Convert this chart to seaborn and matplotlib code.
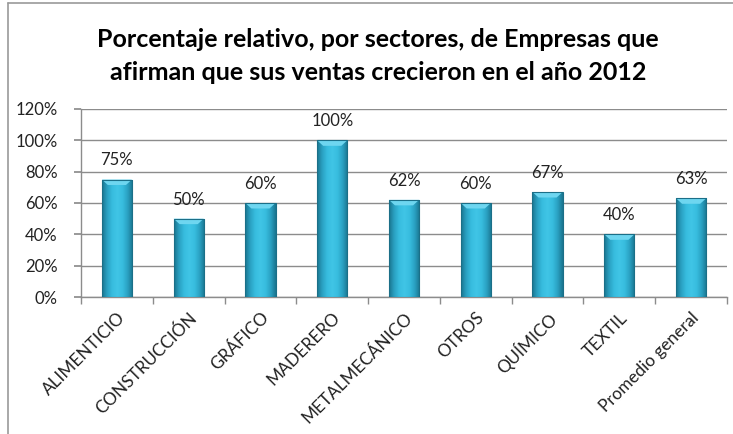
import numpy as np
import pandas as pd
import matplotlib
matplotlib.use("Agg")
import matplotlib.pyplot as plt
import seaborn as sns
from matplotlib.colors import LinearSegmentedColormap
from matplotlib.patches import Polygon, Rectangle
from matplotlib.ticker import FixedLocator, PercentFormatter

sectores = ["ALIMENTICIO", "CONSTRUCCIÓN", "GRÁFICO", "MADERERO", "METALMECÁNICO",
            "OTROS", "QUÍMICO", "TEXTIL", "Promedio general"]
porcentajes = [0.75, 0.50, 0.60, 1.00, 0.62, 0.60, 0.67, 0.40, 0.63]
titulo = "Porcentaje relativo, por sectores, de Empresas que\nafirman que sus ventas crecieron en el año 2012"

df = pd.DataFrame({"sector": sectores, "pct": porcentajes})

sns.set_theme(style="white")
plt.rcParams["font.family"] = ["Lato", "DejaVu Sans"]

fig = plt.figure(figsize=(7.33, 4.34), dpi=100)
ax = fig.add_axes([81 / 733, 1 - 297 / 434, (727 - 81) / 733, (297 - 109) / 434])

sns.barplot(data=df, x="sector", y="pct", color="#2EADD0", width=0.42, ax=ax,
            saturation=1, zorder=3)

ax.set_ylim(0, 1.2)
ax.set_xlim(-0.5, len(sectores) - 0.5)
ax.yaxis.set_major_locator(FixedLocator(np.arange(0, 1.21, 0.2)))
ax.yaxis.set_major_formatter(PercentFormatter(1.0, decimals=0))
ax.grid(axis="y", color="#8c8c8c", linewidth=1, zorder=0)
ax.set_axisbelow(True)
ax.set_xlabel("")
ax.set_ylabel("")

for side in ["top", "right"]:
    ax.spines[side].set_visible(False)
for side in ["left", "bottom"]:
    ax.spines[side].set_color("#8c8c8c")
    ax.spines[side].set_linewidth(1)

ax.tick_params(axis="y", left=True, length=5, color="#8c8c8c", labelsize=12,
               pad=12, labelcolor="#222222")
ax.tick_params(axis="x", which="major", bottom=False, labelsize=12.3, pad=3,
               labelcolor="#222222")
ax.set_xticks(np.arange(-0.5, len(sectores)), minor=True)
ax.tick_params(axis="x", which="minor", bottom=True, length=5, color="#8c8c8c")
for lab in ax.get_xticklabels():
    lab.set_rotation(45)
    lab.set_ha("right")
    lab.set_rotation_mode("anchor")

# shaded bar bodies with a bevelled top
shade = LinearSegmentedColormap.from_list(
    "bar_shade", ["#1A7590", "#2AA2C3", "#38BDDF", "#40C5E6", "#38BDDF", "#2AA2C3", "#1A7590"])
grad = np.linspace(0, 1, 64).reshape(1, -1)
for p in list(ax.patches):
    x0, w, h = p.get_x(), p.get_width(), p.get_height()
    p.set_alpha(0)
    body = Rectangle((x0, 0), w, h, facecolor="none", edgecolor="none", transform=ax.transData)
    ax.add_patch(body)
    im = ax.imshow(grad, cmap=shade, aspect="auto", extent=(x0, x0 + w, 0, h),
                   zorder=3, interpolation="bicubic")
    im.set_clip_path(body)
    cap_h = 0.035
    inset = w * 0.2
    cap = Polygon([(x0, h), (x0 + w, h), (x0 + w - inset, h - cap_h), (x0 + inset, h - cap_h)],
                  closed=True, facecolor="#6ED6F0", edgecolor="none", zorder=4)
    ax.add_patch(cap)
    ax.add_patch(Rectangle((x0, 0), w, h, facecolor="none", edgecolor="#1B6F88",
                           linewidth=0.8, zorder=5))

ax.set_xlim(-0.5, len(sectores) - 0.5)
ax.set_ylim(0, 1.2)

for i, v in enumerate(porcentajes):
    ax.annotate(f"{round(v * 100)}%", (i, v), xytext=(0, 8), textcoords="offset points",
                ha="center", va="bottom", fontsize=12, color="#222222", zorder=6)

fig.text(0.516, 1 - 56 / 434, titulo, ha="center", va="center", fontsize=18,
         fontweight="bold", color="black", linespacing=1.52)

# chart frame
fig.add_artist(plt.Line2D([8 / 733, 8 / 733], [0, 1 - 3 / 434], color="#9a9a9a", linewidth=1.2))
fig.add_artist(plt.Line2D([8 / 733, 1], [1 - 3 / 434, 1 - 3 / 434], color="#9a9a9a", linewidth=1.2))

fig.savefig("out.png", dpi=100)
